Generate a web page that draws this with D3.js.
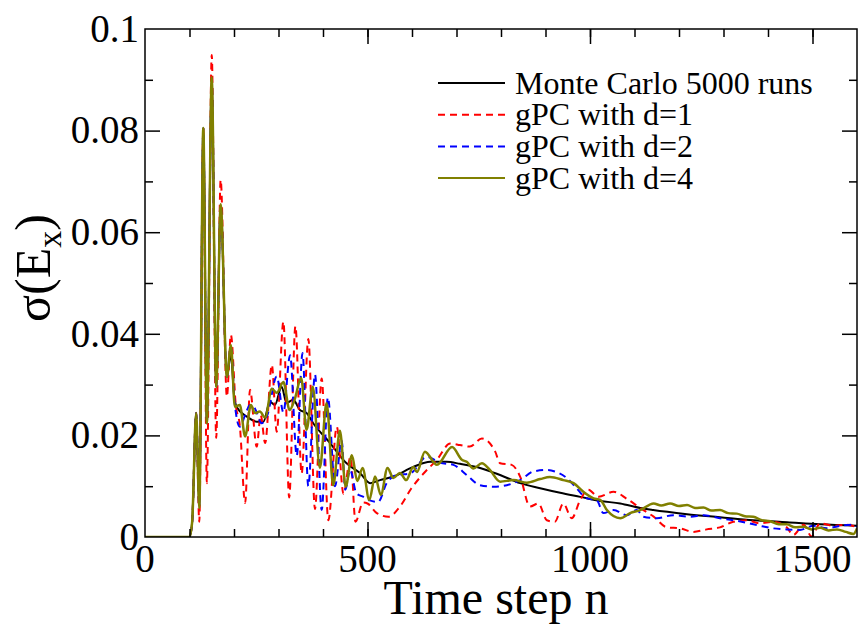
<!DOCTYPE html>
<html>
<head>
<meta charset="utf-8">
<script src="https://cdn.jsdelivr.net/npm/d3@7"></script>
<style>
  body { margin: 0; background: #fff; }
  svg { display: block; font-family: "Liberation Serif", "Times New Roman", serif; }
</style>
</head>
<body>
<svg></svg>
<script>
// [time step, sigma]
var monteCarlo = [[0,0],[100,0],[106,0.003],[115,0.0244],[122,0.006],[131,0.0805],[139,0.0224],[150,0.0896],[160,0.0295],
  [170,0.065],[184,0.0315],[193,0.036],[200,0.028],[206,0.0256],[229,0.0237],[251,0.0227],[266,0.0227],[281,0.0266],
  [292,0.026],[307,0.0296],[318,0.0264],[333,0.027],[348,0.025],[363,0.0244],[378,0.0224],[416,0.0185],[453,0.0145],
  [483,0.0126],[506,0.0106],[528,0.0112],[558,0.0119],[603,0.0138],[641,0.0148],[678,0.0148],[708,0.0144],[753,0.0136],
  [798,0.0122],[843,0.0106],[888,0.0096],[933,0.0087],[978,0.0079],[1023,0.0071],[1068,0.0066],[1113,0.0057],
  [1142,0.0053],[1218,0.0045],[1292,0.0039],[1367,0.0033],[1443,0.0029],[1517,0.0025],[1600,0.0022]];

var gpcD1 = [[0,0],[100,0],[106,0.003],[115,0.0244],[122,0.003],[131,0.0805],[139,0.0106],[150,0.0949],[160,0.0195],
  [170,0.0703],[184,0.0276],[193,0.0398],[204,0.026],[213,0.022],[225,0.0067],[236,0.029],[251,0.0178],[260,0.024],
  [270,0.0185],[285,0.0339],[296,0.0207],[311,0.0424],[324,0.0078],[338,0.0415],[352,0.0125],[367,0.039],[382,0.0055],
  [397,0.0312],[412,0.0033],[431,0.0217],[446,0.0085],[462,0.0158],[473,0.003],[490,0.0068],[500,0.0066],[521,0.0047],
  [547,0.004],[573,0.006],[598,0.0095],[626,0.0125],[656,0.0152],[686,0.0184],[708,0.0181],[730,0.0178],[757,0.0194],
  [787,0.0168],[798,0.0145],[824,0.0142],[843,0.0119],[865,0.006],[884,0.0066],[903,0.0033],[921,0.003],[940,0.0066],
  [959,0.0037],[978,0.0073],[996,0.0093],[1019,0.0079],[1053,0.0089],[1083,0.0075],[1113,0.0057],[1143,0.004],
  [1173,0.0019],[1203,0.0017],[1232,0.001],[1262,0.0015],[1292,0.0019],[1322,0.003],[1352,0.0033],[1382,0.0027],
  [1412,0.003],[1442,0.0019],[1457,0.0004],[1480,0.0024],[1498,0.0001],[1517,0.0027],[1547,0.0022],[1577,0.0024],
  [1600,0.0019]];

var gpcD2 = [[0,0],[100,0],[106,0.003],[115,0.0244],[122,0.006],[131,0.0805],[139,0.0224],[150,0.0896],[160,0.0295],
  [170,0.065],[184,0.0315],[193,0.0375],[202,0.026],[213,0.0217],[225,0.024],[236,0.026],[247,0.0253],[262,0.0224],
  [275,0.024],[296,0.0316],[311,0.0245],[326,0.0358],[341,0.016],[354,0.0362],[367,0.01],[382,0.032],[397,0.0053],
  [411,0.0275],[427,0.01],[442,0.019],[450,0.0093],[461,0.0132],[475,0.0086],[491,0.0079],[505,0.0072],[524,0.0069],
  [543,0.0106],[566,0.0122],[596,0.0125],[633,0.0158],[663,0.0146],[693,0.0142],[723,0.0122],[753,0.0102],[783,0.0099],
  [813,0.0102],[843,0.0112],[873,0.0129],[903,0.0132],[921,0.0129],[948,0.0116],[970,0.0096],[993,0.0076],[1015,0.0073],
  [1030,0.0047],[1053,0.0053],[1083,0.0043],[1105,0.0053],[1120,0.004],[1150,0.0037],[1187,0.0043],[1225,0.004],
  [1255,0.0043],[1292,0.0037],[1322,0.0033],[1352,0.0028],[1382,0.0022],[1412,0.0017],[1442,0.0015],[1472,0.0014],
  [1502,0.0022],[1532,0.0017],[1562,0.0022],[1592,0.0024],[1600,0.002]];

var gpcD4 = [[0,0],[100,0],[106,0.003],[115,0.0244],[122,0.0057],[131,0.0805],[139,0.0224],[150,0.0905],[160,0.0295],
  [170,0.0655],[184,0.0315],[193,0.0378],[202,0.0256],[213,0.026],[225,0.0198],[238,0.026],[247,0.0244],[258,0.0247],
  [270,0.0235],[285,0.0292],[296,0.0284],[311,0.0305],[325,0.025],[336,0.027],[351,0.0313],[363,0.0211],[377,0.0296],
  [393,0.0136],[408,0.0264],[423,0.0102],[438,0.0209],[451,0.0099],[465,0.0161],[477,0.011],[489,0.0136],[504,0.0073],
  [517,0.0119],[530,0.0083],[545,0.0136],[558,0.0116],[573,0.0126],[587,0.0112],[603,0.0138],[611,0.0128],[629,0.0168],
  [656,0.0142],[690,0.0177],[712,0.0152],[723,0.0148],[738,0.0135],[757,0.0145],[775,0.0132],[798,0.0109],[828,0.0112],
  [858,0.0107],[888,0.0114],[910,0.0118],[940,0.0112],[963,0.0106],[985,0.0089],[1008,0.0076],[1023,0.0073],
  [1038,0.0053],[1068,0.0037],[1090,0.0047],[1113,0.0053],[1143,0.0066],[1160,0.0062],[1180,0.0066],[1200,0.0061],
  [1218,0.0063],[1237,0.0057],[1255,0.0058],[1273,0.0052],[1292,0.0053],[1311,0.0047],[1330,0.0046],[1348,0.0041],
  [1367,0.004],[1386,0.0033],[1405,0.0031],[1424,0.0025],[1442,0.0025],[1461,0.0019],[1480,0.002],[1498,0.0015],
  [1517,0.0018],[1536,0.0013],[1555,0.0015],[1575,0.001],[1592,0.0006],[1600,0.0017]];

var xTicks = [0, 500, 1000, 1500];
var yTicks = [0, 0.02, 0.04, 0.06, 0.08, 0.1];
var yTickLabels = ['0', '0.02', '0.04', '0.06', '0.08', '0.1'];
var legendNames = ['Monte Carlo 5000 runs', 'gPC with d=1', 'gPC with d=2', 'gPC with d=4'];

var W = 858, H = 627;
var plotLeft = 145, plotRight = 857, plotTop = 29, plotBottom = 537;

var svg = d3.select('svg').attr('width', W).attr('height', H);

var x = d3.scaleLinear().domain([0, 1600]).range([plotLeft, plotRight]);
var y = d3.scaleLinear().domain([0, 0.1]).range([plotBottom, plotTop]);

svg.append('clipPath').attr('id', 'plot')
   .append('rect')
   .attr('x', plotLeft).attr('y', plotTop)
   .attr('width', plotRight - plotLeft).attr('height', plotBottom - plotTop);

var series = [
  {data: monteCarlo, color: '#000000', width: 2, dash: null},
  {data: gpcD1, color: '#ff0000', width: 2, dash: '7,5'},
  {data: gpcD2, color: '#0000ff', width: 2, dash: '7,5'},
  {data: gpcD4, color: '#808000', width: 2.5, dash: null}
];

var line = d3.line()
  .x(d => x(d[0]))
  .y(d => y(d[1]))
  .curve(d3.curveMonotoneX);

svg.append('g').attr('clip-path', 'url(#plot)')
   .selectAll('path')
   .data(series)
   .enter()
   .append('path')
   .attr('d', d => line(d.data))
   .attr('fill', 'none')
   .attr('stroke', d => d.color)
   .attr('stroke-width', d => d.width)
   .attr('stroke-dasharray', d => d.dash)
   .attr('stroke-linejoin', 'round');

// ticks pointing inward on all four sides
var major = 15, minor = 8;
svg.append('g').attr('transform', 'translate(0,' + plotBottom + ')')
   .call(d3.axisTop(x).tickValues(d3.range(100, 1600, 100)).tickSize(minor).tickFormat(''));
svg.append('g').attr('transform', 'translate(0,' + plotBottom + ')')
   .call(d3.axisTop(x).tickValues([500, 1000, 1500]).tickSize(major).tickFormat(''));
svg.append('g').attr('transform', 'translate(0,' + plotTop + ')')
   .call(d3.axisBottom(x).tickValues(d3.range(100, 1600, 100)).tickSize(minor).tickFormat(''));
svg.append('g').attr('transform', 'translate(0,' + plotTop + ')')
   .call(d3.axisBottom(x).tickValues([500, 1000, 1500]).tickSize(major).tickFormat(''));
svg.append('g').attr('transform', 'translate(' + plotLeft + ',0)')
   .call(d3.axisRight(y).tickValues(d3.range(0.01, 0.1, 0.02)).tickSize(minor).tickFormat(''));
svg.append('g').attr('transform', 'translate(' + plotLeft + ',0)')
   .call(d3.axisRight(y).tickValues([0.02, 0.04, 0.06, 0.08]).tickSize(major).tickFormat(''));
svg.append('g').attr('transform', 'translate(' + plotRight + ',0)')
   .call(d3.axisLeft(y).tickValues(d3.range(0.01, 0.1, 0.02)).tickSize(minor).tickFormat(''));
svg.append('g').attr('transform', 'translate(' + plotRight + ',0)')
   .call(d3.axisLeft(y).tickValues([0.02, 0.04, 0.06, 0.08]).tickSize(major).tickFormat(''));
svg.selectAll('.domain').remove();
svg.selectAll('.tick line').attr('stroke', '#000').attr('stroke-width', 1.5);

svg.append('rect')
   .attr('x', plotLeft).attr('y', plotTop)
   .attr('width', plotRight - plotLeft).attr('height', plotBottom - plotTop)
   .attr('fill', 'none').attr('stroke', '#000').attr('stroke-width', 1.5);

// tick labels
svg.append('g').selectAll('text')
   .data(xTicks).enter().append('text')
   .attr('x', d => x(d))
   .attr('y', 572)
   .attr('text-anchor', 'middle')
   .attr('font-size', '39px')
   .text(d => d);

svg.append('g').selectAll('text')
   .data(yTicks).enter().append('text')
   .attr('x', 139)
   .attr('y', d => y(d))
   .attr('dy', '0.33em')
   .attr('text-anchor', 'end')
   .attr('font-size', '39px')
   .text((d, i) => yTickLabels[i]);

// axis titles
svg.append('text')
   .attr('x', 496)
   .attr('y', 614)
   .attr('text-anchor', 'middle')
   .attr('font-size', '48px')
   .text('Time step n');

var yt = svg.append('text')
   .attr('transform', 'translate(50,268) rotate(-90)')
   .attr('text-anchor', 'middle')
   .attr('font-size', '50px');
yt.append('tspan').text('σ(E');
yt.append('tspan').attr('font-size', '34px').attr('dy', 11).text('x');
yt.append('tspan').attr('dy', -11).text(')');

// legend
var legend = svg.append('g').selectAll('g')
   .data(series).enter().append('g')
   .attr('transform', (d, i) => 'translate(0,' + (83 + i * 31.7) + ')');
legend.append('line')
   .attr('x1', 438).attr('x2', 505)
   .attr('stroke', d => d.color)
   .attr('stroke-width', 2)
   .attr('stroke-dasharray', d => d.dash);
legend.append('text')
   .attr('x', 515)
   .attr('dy', '0.33em')
   .attr('font-size', '32px')
   .text((d, i) => legendNames[i]);
</script>
</body>
</html>
